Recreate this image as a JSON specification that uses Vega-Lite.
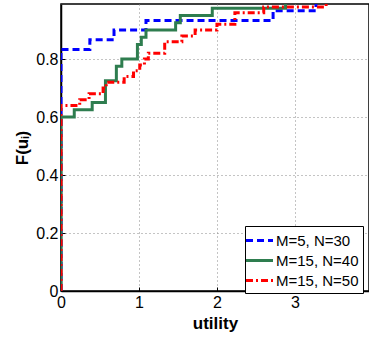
{
  "$schema": "https://vega.github.io/schema/vega-lite/v6.json",
  "width": 308,
  "height": 287,
  "autosize": "none",
  "padding": {"left": 61, "top": 4, "right": 0, "bottom": 49},
  "background": "white",
  "config": {
    "view": {"stroke": "black", "strokeWidth": 1.5},
    "font": "Liberation Sans",
    "axis": {
      "domainColor": "black", "domainWidth": 1.5, "labelFlush": false,
      "gridColor": "#888", "gridDash": [1, 3], "gridWidth": 1, "gridOpacity": 1,
      "tickColor": "black", "tickSize": -4, "tickWidth": 1,
      "labelFont": "Liberation Sans", "labelFontSize": 16, "labelColor": "black",
      "titleFont": "Liberation Sans", "titleFontSize": 17, "titleFontWeight": "bold", "titleColor": "black"
    },
    "legend": {
      "orient": "none", "legendX": 184, "legendY": 222,
      "fillColor": "white", "strokeColor": "black", "padding": 4,
      "symbolType": "M-1.5,0H1.5", "symbolStrokeWidth": 3, "symbolSize": 324, "symbolFillColor": "transparent",
      "labelFontSize": 15, "labelFont": "Liberation Sans", "labelColor": "black", "rowPadding": 1, "labelOffset": 6
    }
  },
  "data": {
    "values": [
      {"series": "M=5, N=30", "x": 0, "y": 0},
      {"series": "M=5, N=30", "x": 0, "y": 0.833},
      {"series": "M=5, N=30", "x": 0.37, "y": 0.867},
      {"series": "M=5, N=30", "x": 0.68, "y": 0.9},
      {"series": "M=5, N=30", "x": 1.09, "y": 0.933},
      {"series": "M=5, N=30", "x": 2.72, "y": 0.967},
      {"series": "M=5, N=30", "x": 3.27, "y": 1.0},
      {"series": "M=5, N=30", "x": 3.95, "y": 1.0},
      {"series": "M=15, N=40", "x": 0, "y": 0},
      {"series": "M=15, N=40", "x": 0, "y": 0.6},
      {"series": "M=15, N=40", "x": 0.17, "y": 0.625},
      {"series": "M=15, N=40", "x": 0.4, "y": 0.65},
      {"series": "M=15, N=40", "x": 0.57, "y": 0.725},
      {"series": "M=15, N=40", "x": 0.71, "y": 0.775},
      {"series": "M=15, N=40", "x": 0.78, "y": 0.8},
      {"series": "M=15, N=40", "x": 0.98, "y": 0.85},
      {"series": "M=15, N=40", "x": 1.03, "y": 0.875},
      {"series": "M=15, N=40", "x": 1.09, "y": 0.9},
      {"series": "M=15, N=40", "x": 1.47, "y": 0.925},
      {"series": "M=15, N=40", "x": 1.53, "y": 0.95},
      {"series": "M=15, N=40", "x": 1.94, "y": 0.975},
      {"series": "M=15, N=40", "x": 2.88, "y": 1.0},
      {"series": "M=15, N=40", "x": 3.95, "y": 1.0},
      {"series": "M=15, N=50", "x": 0, "y": 0},
      {"series": "M=15, N=50", "x": 0, "y": 0.64},
      {"series": "M=15, N=50", "x": 0.24, "y": 0.66},
      {"series": "M=15, N=50", "x": 0.36, "y": 0.68},
      {"series": "M=15, N=50", "x": 0.54, "y": 0.7},
      {"series": "M=15, N=50", "x": 0.58, "y": 0.72},
      {"series": "M=15, N=50", "x": 0.81, "y": 0.74},
      {"series": "M=15, N=50", "x": 0.93, "y": 0.76},
      {"series": "M=15, N=50", "x": 1.01, "y": 0.78},
      {"series": "M=15, N=50", "x": 1.07, "y": 0.8},
      {"series": "M=15, N=50", "x": 1.12, "y": 0.82},
      {"series": "M=15, N=50", "x": 1.33, "y": 0.86},
      {"series": "M=15, N=50", "x": 1.55, "y": 0.88},
      {"series": "M=15, N=50", "x": 1.72, "y": 0.9},
      {"series": "M=15, N=50", "x": 2.0, "y": 0.92},
      {"series": "M=15, N=50", "x": 2.23, "y": 0.96},
      {"series": "M=15, N=50", "x": 2.6, "y": 0.98},
      {"series": "M=15, N=50", "x": 3.4, "y": 1.0},
      {"series": "M=15, N=50", "x": 3.95, "y": 1.0}
    ]
  },
  "mark": {"type": "line", "interpolate": "step-after", "strokeWidth": 3, "clip": true},
  "encoding": {
    "x": {
      "field": "x", "type": "quantitative",
      "scale": {"domain": [0, 3.95], "nice": false, "zero": false},
      "axis": {"values": [0, 1, 2, 3], "title": "utility", "labelPadding": 7, "titlePadding": 5, "format": "d"}
    },
    "y": {
      "field": "y", "type": "quantitative",
      "scale": {"domain": [0, 0.99], "nice": false, "zero": false},
      "axis": {"values": [0, 0.2, 0.4, 0.6, 0.8], "title": "F(uᵢ)", "labelPadding": 7, "titlePadding": 4,
               "labelExpr": "datum.value == 0 ? '0' : format(datum.value, '.1f')"}
    },
    "color": {
      "field": "series", "type": "nominal",
      "scale": {"domain": ["M=5, N=30", "M=15, N=40", "M=15, N=50"], "range": ["#0000ff", "#2e7d4f", "#ff0000"]},
      "legend": {"title": null}
    },
    "strokeDash": {
      "field": "series", "type": "nominal",
      "scale": {"domain": ["M=5, N=30", "M=15, N=40", "M=15, N=50"], "range": [[7, 4], [1, 0], [7, 3, 2, 3]]},
      "legend": {"title": null}
    },
    "order": {"field": "x"}
  }
}
